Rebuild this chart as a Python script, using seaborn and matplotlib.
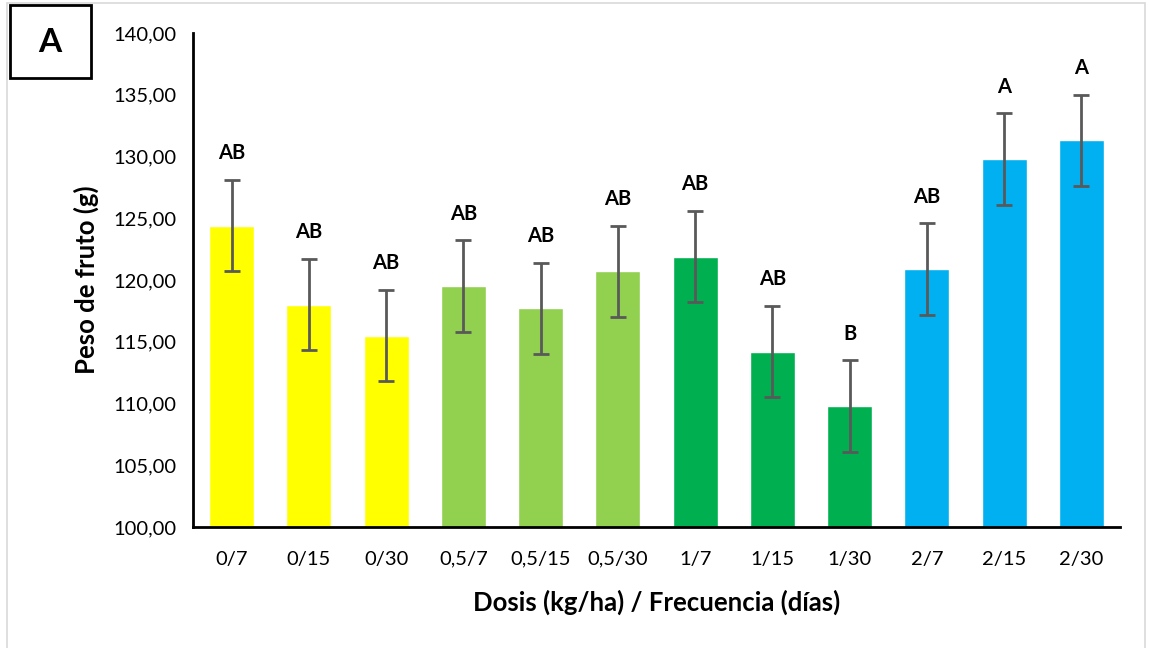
import numpy as np
import pandas as pd
import seaborn as sns
import matplotlib.pyplot as plt
from matplotlib.patches import Rectangle
from matplotlib.ticker import FuncFormatter

tratamientos = ['0/7', '0/15', '0/30', '0,5/7', '0,5/15', '0,5/30',
                '1/7', '1/15', '1/30', '2/7', '2/15', '2/30']
peso = [124.4, 118.0, 115.5, 119.5, 117.7, 120.7,
        121.9, 114.2, 109.8, 120.9, 129.8, 131.3]
error = [3.7, 3.7, 3.7, 3.7, 3.7, 3.7, 3.7, 3.7, 3.7, 3.7, 3.7, 3.7]
letras = ['AB', 'AB', 'AB', 'AB', 'AB', 'AB', 'AB', 'AB', 'B', 'AB', 'A', 'A']
colores = ['#FFFF00'] * 3 + ['#92D050'] * 3 + ['#00B050'] * 3 + ['#00B0F0'] * 3

df = pd.DataFrame({'trat': tratamientos, 'peso': peso, 'err': error})

sns.set_style('white')
plt.rcParams['font.family'] = ['Lato', 'DejaVu Sans']
plt.rcParams['text.color'] = 'black'
plt.rcParams['axes.labelcolor'] = 'black'
plt.rcParams['xtick.color'] = 'black'
plt.rcParams['ytick.color'] = 'black'

fig = plt.figure(figsize=(11.49, 6.48), dpi=100)
ax = fig.add_axes([193 / 1149, 1 - 527 / 648, 927 / 1149, 494 / 648])

sns.barplot(data=df, x='trat', y='peso', hue='trat', palette=colores,
            saturation=1, legend=False, width=0.58, ax=ax, errorbar=None)
ax.errorbar(np.arange(len(peso)), peso, yerr=error, fmt='none',
            ecolor='#595959', elinewidth=2, capsize=6, capthick=2)

for i, (v, e, l) in enumerate(zip(peso, error, letras)):
    ax.annotate(l, (i, v + e), xytext=(0, 12), textcoords='offset points',
                ha='center', va='bottom', fontsize=14.5, fontweight='bold')

ax.set_ylim(100, 140)
ax.set_xlim(-0.5, 11.5)
ax.yaxis.set_major_formatter(FuncFormatter(lambda y, p: f'{y:.2f}'.replace('.', ',')))
ax.set_yticks(np.arange(100, 141, 5))
ax.tick_params(axis='y', labelsize=14.5, length=0, pad=12)
ax.tick_params(axis='x', labelsize=14.5, length=0, pad=17)
ax.set_xlabel('Dosis (kg/ha) / Frecuencia (días)', fontsize=18.5, fontweight='bold', labelpad=16)
ax.set_ylabel('Peso de fruto (g)', fontsize=18.5, fontweight='bold', labelpad=10)
sns.despine(ax=ax)
for s in ['left', 'bottom']:
    ax.spines[s].set_color('black')
    ax.spines[s].set_linewidth(2)

# marco exterior y etiqueta del panel
fig.patches.append(Rectangle((7 / 1149, -0.01), 1138 / 1149, 1 - 3 / 648 + 0.01,
                             transform=fig.transFigure, fill=False,
                             edgecolor='#D9D9D9', linewidth=1.2))
fig.patches.append(Rectangle((10 / 1149, 1 - 78 / 648), 81 / 1149, 73 / 648,
                             transform=fig.transFigure, fill=False,
                             edgecolor='black', linewidth=2))
fig.text(50 / 1149, 1 - 42 / 648, 'A', ha='center', va='center',
         fontsize=24, fontweight='bold')

fig.savefig('out.png', dpi=100)
